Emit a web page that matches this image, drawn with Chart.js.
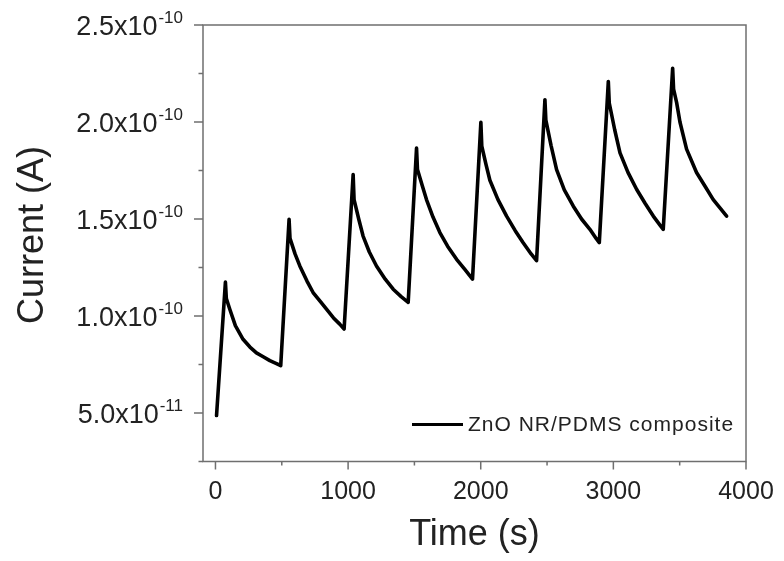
<!DOCTYPE html>
<html>
<head>
<meta charset="utf-8">
<script src="https://cdn.jsdelivr.net/npm/chart.js@4/dist/chart.umd.min.js"></script>
<style>
  html, body { margin: 0; padding: 0; background: #ffffff; }
  #wrap { width: 784px; height: 561px; position: relative; }
</style>
</head>
<body>
<div id="wrap"><canvas id="chart" width="784" height="561"></canvas></div>
<script>
// Photocurrent of the ZnO NR/PDMS composite under repeated light pulses
const timeSec = [
  8, 75, 82, 108, 150, 208, 260, 309, 360, 410, 460, 492,
  555, 562, 600, 636, 690, 736, 790, 837, 890, 937, 970,
  1038, 1045, 1080, 1113, 1160, 1214, 1280, 1340, 1400, 1453,
  1516, 1523, 1560, 1591, 1640, 1692, 1750, 1818, 1880, 1938,
  2001, 2008, 2040, 2069, 2130, 2195, 2260, 2320, 2380, 2421,
  2484, 2491, 2530, 2572, 2630, 2698, 2760, 2823, 2870, 2894,
  2962, 2969, 3010, 3050, 3110, 3176, 3240, 3301, 3350, 3376,
  3447, 3454, 3477, 3502, 3552, 3627, 3690, 3753, 3854
];
// current in units of 1e-10 A
const current_1e10A = [
  0.487, 1.175, 1.09, 1.035, 0.95, 0.88, 0.84, 0.81, 0.79, 0.77, 0.755, 0.744,
  1.498, 1.40, 1.32, 1.258, 1.18, 1.121, 1.075, 1.035, 0.99, 0.958, 0.933,
  1.729, 1.60, 1.50, 1.412, 1.33, 1.258, 1.19, 1.138, 1.10, 1.070,
  1.866, 1.755, 1.67, 1.60, 1.51, 1.43, 1.36, 1.292, 1.24, 1.19,
  1.998, 1.875, 1.78, 1.70, 1.60, 1.515, 1.44, 1.378, 1.32, 1.285,
  2.115, 2.01, 1.88, 1.755, 1.65, 1.566, 1.50, 1.447, 1.40, 1.378,
  2.209, 2.098, 1.96, 1.841, 1.74, 1.652, 1.58, 1.515, 1.47, 1.447,
  2.277, 2.17, 2.10, 2.00, 1.86, 1.74, 1.67, 1.60, 1.515
];
const seriesLabel = 'ZnO NR/PDMS composite';

const xMajorTicks = [0, 1000, 2000, 3000, 4000];
const xMinorTicks = [500, 1500, 2500, 3500];
const xTickLabels = ['0', '1000', '2000', '3000', '4000'];

const yMajorTicks = [5e-11, 1.0e-10, 1.5e-10, 2.0e-10, 2.5e-10];
const yMinorTicks = [2.5e-11, 7.5e-11, 1.25e-10, 1.75e-10, 2.25e-10];
const yTickMantissas = ['5.0x10', '1.0x10', '1.5x10', '2.0x10', '2.5x10'];
const yTickExponents = ['-11', '-10', '-10', '-10', '-10'];

const xTitle = 'Time (s)';
const yTitle = 'Current (A)';

const FONT = '"Liberation Sans", Arial, Helvetica, sans-serif';
const AXIS_COLOR = '#6f6f6f';
const TEXT_COLOR = '#222222';

const points = timeSec.map((t, i) => ({ x: t, y: current_1e10A[i] * 1e-10 }));

// Boxed frame, outward ticks, superscript tick labels, titles and legend
const frameAndLabels = {
  id: 'frameAndLabels',
  afterDraw(chart) {
    const { ctx, chartArea: a, scales } = chart;
    const xs = scales.x, ys = scales.y;
    ctx.save();

    // frame
    ctx.strokeStyle = AXIS_COLOR;
    ctx.lineWidth = 1.5;
    ctx.strokeRect(a.left, a.top, a.right - a.left, a.bottom - a.top);

    // y ticks
    ctx.beginPath();
    yMajorTicks.forEach(v => {
      const py = ys.getPixelForValue(v);
      ctx.moveTo(a.left - 9, py); ctx.lineTo(a.left, py);
    });
    yMinorTicks.forEach(v => {
      const py = ys.getPixelForValue(v);
      ctx.moveTo(a.left - 4.5, py); ctx.lineTo(a.left, py);
    });
    // x ticks
    xMajorTicks.forEach(v => {
      const px = xs.getPixelForValue(v);
      ctx.moveTo(px, a.bottom); ctx.lineTo(px, a.bottom + 8);
    });
    xMinorTicks.forEach(v => {
      const px = xs.getPixelForValue(v);
      ctx.moveTo(px, a.bottom); ctx.lineTo(px, a.bottom + 4);
    });
    ctx.stroke();

    ctx.fillStyle = TEXT_COLOR;

    // y tick labels with superscript exponents
    const labelRight = a.left - 20;
    yMajorTicks.forEach((v, i) => {
      const py = ys.getPixelForValue(v);
      ctx.font = '17px ' + FONT;
      ctx.textAlign = 'right';
      ctx.textBaseline = 'alphabetic';
      const supW = ctx.measureText(yTickExponents[i]).width;
      ctx.fillText(yTickExponents[i], labelRight, py - 2);
      ctx.font = '27px ' + FONT;
      ctx.fillText(yTickMantissas[i], labelRight - supW - 1, py + 10);
    });

    // x tick labels
    ctx.font = '25px ' + FONT;
    ctx.textAlign = 'center';
    ctx.textBaseline = 'alphabetic';
    xMajorTicks.forEach((v, i) => {
      ctx.fillText(xTickLabels[i], xs.getPixelForValue(v), a.bottom + 37);
    });

    // axis titles
    ctx.font = '36px ' + FONT;
    ctx.fillText(xTitle, (a.left + a.right) / 2, a.bottom + 83);
    ctx.save();
    ctx.translate(43, 235);
    ctx.rotate(-Math.PI / 2);
    ctx.textAlign = 'center';
    ctx.fillText(yTitle, 0, 0);
    ctx.restore();

    // legend
    const ds = chart.data.datasets[0];
    const lx = a.left + 209, ly = a.bottom - 37;
    ctx.strokeStyle = ds.borderColor;
    ctx.lineWidth = 3;
    ctx.beginPath();
    ctx.moveTo(lx, ly); ctx.lineTo(lx + 51, ly);
    ctx.stroke();
    ctx.font = '21px ' + FONT;
    if ('letterSpacing' in ctx) ctx.letterSpacing = '1px';
    ctx.textAlign = 'left';
    ctx.textBaseline = 'middle';
    ctx.fillText(ds.label, lx + 56, ly + 1);

    ctx.restore();
  }
};

new Chart(document.getElementById('chart'), {
  type: 'line',
  data: {
    datasets: [{
      label: seriesLabel,
      data: points,
      borderColor: '#000000',
      borderWidth: 3.6,
      pointRadius: 0,
      tension: 0,
      fill: false,
      borderJoinStyle: 'round',
      borderCapStyle: 'round'
    }]
  },
  options: {
    responsive: false,
    animation: false,
    devicePixelRatio: 1,
    layout: { padding: { left: 0, top: 25, right: 38, bottom: 0 } },
    plugins: { legend: { display: false }, tooltip: { enabled: false } },
    scales: {
      x: {
        type: 'linear',
        min: -94,
        max: 4000,
        grid: { display: false },
        border: { display: false },
        ticks: { display: false },
        afterFit(scale) { scale.height = 99.5; }
      },
      y: {
        type: 'linear',
        min: 2.5e-11,
        max: 2.5e-10,
        grid: { display: false },
        border: { display: false },
        ticks: { display: false },
        afterFit(scale) { scale.width = 203; }
      }
    }
  },
  plugins: [frameAndLabels]
});
</script>
</body>
</html>
